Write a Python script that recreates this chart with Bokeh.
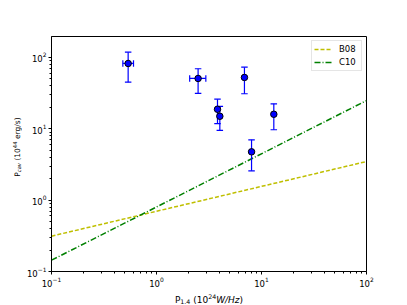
import math
from bokeh.plotting import figure
from bokeh.models import Range1d, FixedTicker, LogTickFormatter
from bokeh.layouts import row, column
from bokeh.core.properties import value
from bokeh.embed import file_html
from bokeh.resources import INLINE

# ---- data ----
p14 = [0.537, 2.49, 3.81, 4.01, 6.88, 13.1, 8.04]
pcav = [82.4, 50.8, 18.8, 15.0, 52.5, 16.0, 4.76]
pcav_lo = [45.1, 31.3, 11.8, 9.5, 31.0, 9.7, 2.58]
pcav_hi = [118.7, 69.5, 26.0, 20.6, 73.1, 22.4, 7.0]
xerr_y = [82.4, 50.8]
xerr_lo = [0.478, 2.07]
xerr_hi = [0.604, 2.95]

line_x = [0.1, 100.0]
b08_y = [0.313, 3.48]
c10_y = [0.144, 24.9]
series_names = ["B08", "C10"]

x_major = [0.1, 1, 10, 100]
y_major = [0.1, 1, 10, 100]

FONT = "DejaVu Sans"
TOTAL_H = 305
YL_W = 22                      # width of y-label strip
ML, MR, MT, MB = 29, 41, 36, 19
FW, FH = 315, 235
MAIN_W = ML + FW + MR
MAIN_H = MT + FH + MB
XL_H = TOTAL_H - MAIN_H

p = figure(width=MAIN_W, height=MAIN_H, x_axis_type="log", y_axis_type="log",
           x_range=Range1d(0.1, 100), y_range=Range1d(0.1, 196.8),
           output_backend="svg", toolbar_location=None,
           min_border_left=ML, min_border_right=MR, min_border_top=MT, min_border_bottom=MB)
p.background_fill_color = "white"
p.border_fill_color = "white"
p.outline_line_color = "black"
p.outline_line_width = 1
p.xgrid.visible = False
p.ygrid.visible = False

minor_x = [j * 10.0 ** k for k in (-1, 0, 1) for j in range(2, 10)]
minor_y = [j * 10.0 ** k for k in (-1, 0, 1, 2) for j in range(2, 10)]
p.xaxis.ticker = FixedTicker(ticks=x_major, minor_ticks=minor_x)
p.yaxis.ticker = FixedTicker(ticks=y_major, minor_ticks=minor_y)
for ax in (p.xaxis, p.yaxis):
    ax.formatter = LogTickFormatter()
    ax.axis_line_color = "black"
    ax.axis_line_width = 1
    ax.major_tick_line_color = "black"
    ax.minor_tick_line_color = "black"
    ax.major_tick_in = 0
    ax.major_tick_out = 3
    ax.minor_tick_in = 0
    ax.minor_tick_out = 2
    ax.major_label_text_font = FONT
    ax.major_label_text_font_size = "8.5px"
    ax.major_label_text_color = "black"
    ax.major_label_standoff = 2

# lines
p.line(line_x, b08_y, line_color="#bfbf00", line_width=1.5, line_dash="4 2",
       legend_label=series_names[0])
p.line(line_x, c10_y, line_color="#008000", line_width=1.5, line_dash="6 2 1 2",
       legend_label=series_names[1])

# error bars
ecol = "#0000ff"
p.segment(x0=p14, y0=pcav_lo, x1=p14, y1=pcav_hi, line_color=ecol, line_width=1.2)
p.scatter(p14, pcav_lo, marker="dash", size=6.5, line_color=ecol, line_width=1.2)
p.scatter(p14, pcav_hi, marker="dash", size=6.5, line_color=ecol, line_width=1.2)
p.segment(x0=xerr_lo, y0=xerr_y, x1=xerr_hi, y1=xerr_y, line_color=ecol, line_width=1.2)
p.scatter(xerr_lo, xerr_y, marker="dash", angle=math.pi / 2, size=6.5, line_color=ecol, line_width=1.2)
p.scatter(xerr_hi, xerr_y, marker="dash", angle=math.pi / 2, size=6.5, line_color=ecol, line_width=1.2)

# markers
p.scatter(p14, pcav, marker="circle", size=6.5, fill_color="#0000ff", line_color="black", line_width=1)

# legend
lg = p.legend[0]
lg.location = "top_right"
lg.margin = 4
lg.padding = 2
lg.spacing = 1
lg.glyph_width = 18
lg.glyph_height = 12
lg.label_height = 12
lg.label_standoff = 7
lg.label_text_font = FONT
lg.label_text_font_size = "8.5px"
lg.label_text_color = "black"
lg.border_line_color = "#cccccc"
lg.border_line_width = 1
lg.background_fill_alpha = 0.8


def strip(w, h, bl, br, bt, bb):
    """Axis-less figure whose frame (in pixel-like data units) lines up with the main frame."""
    f = figure(width=w, height=h,
               x_range=Range1d(0, w - bl - br), y_range=Range1d(0, h - bt - bb),
               output_backend="svg", toolbar_location=None,
               x_axis_location=None, y_axis_location=None,
               min_border_left=bl, min_border_right=br, min_border_top=bt, min_border_bottom=bb)
    f.xgrid.visible = False
    f.ygrid.visible = False
    f.outline_line_color = None
    f.background_fill_color = "white"
    f.border_fill_color = "white"
    return f


WID = {"P": 0.603, ".": 0.318, " ": 0.318, "(": 0.390, ")": 0.390, "W": 0.989,
       "/": 0.337, "H": 0.752, "z": 0.525, "c": 0.550, "a": 0.613, "v": 0.592,
       "e": 0.615, "r": 0.411, "g": 0.635, "s": 0.521}


def twidth(s, size):
    return sum(WID.get(ch, 0.636) for ch in s) * size


def rich(f, pieces, center, base, vertical=False):
    total = sum(twidth(t, s) for t, s, _, _ in pieces)
    pos = center - total / 2.0
    for t, s, shift, style in pieces:
        lead = len(t) - len(t.lstrip(" "))
        pos += twidth(" " * lead, s)
        t = t.lstrip(" ")
        kw = dict(text=[t], text_font=value(FONT), text_font_size=f"{s}px",
                  text_font_style=style, text_color="black",
                  text_baseline="alphabetic", text_align="left")
        if vertical:
            f.text(x=[base - shift], y=[pos], angle=math.pi / 2, **kw)
        else:
            f.text(x=[pos], y=[base + shift], **kw)
        pos += twidth(t, s)


xlabel = [("P", 9, 0, "normal"), ("1.4", 6.3, -2, "normal"), (" (10", 9, 0, "normal"),
          ("24", 6.3, 3.2, "normal"), ("W/Hz", 9, 0, "italic"), (")", 9, 0, "normal")]
ylabel = [("P", 7.5, 0, "normal"), ("cav", 5.3, -1.7, "italic"), (" (10", 7.5, 0, "normal"),
          ("44", 5.3, 3, "normal"), (" erg/s)", 7.5, 0, "normal")]

# y-label strip: frame spans the main frame's height (page y 36..271)
YB = TOTAL_H - MT - FH
ylab = strip(YL_W, TOTAL_H, 0, 0, MT, YB)
rich(ylab, ylabel, FH - (146.5 - MT), 17, vertical=True)

# x-label strip: frame spans the main frame's width
xlab = strip(MAIN_W, XL_H, ML, MR, 0, 0)
rich(xlab, xlabel, FW / 2.0, 6)

layout = row(ylab, column(p, xlab, spacing=0), spacing=0)

open("out.html", "w").write(file_html(layout, INLINE))
